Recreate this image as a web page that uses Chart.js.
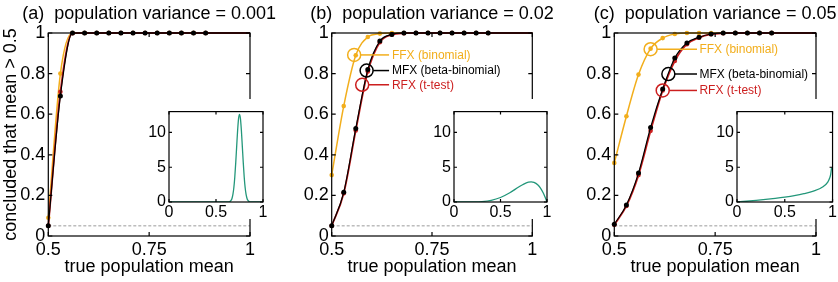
<!DOCTYPE html>
<html>
<head>
<meta charset="utf-8">
<script src="https://cdn.jsdelivr.net/npm/chart.js@4.4.1/dist/chart.umd.min.js"></script>
<style>
  html, body { margin: 0; padding: 0; background: #fff; }
  #wrap { position: relative; width: 838px; height: 282px; overflow: hidden; background: #fff; }
  canvas { position: absolute; }
</style>
</head>
<body>
<div id="wrap">
  <canvas id="mainA" width="280" height="282" style="left:0px;top:0px"></canvas>
  <canvas id="mainB" width="280" height="282" style="left:280px;top:0px"></canvas>
  <canvas id="mainC" width="278" height="282" style="left:560px;top:0px"></canvas>
  <canvas id="insetA" width="133" height="120" style="left:140px;top:99px"></canvas>
  <canvas id="insetB" width="133" height="120" style="left:425px;top:99px"></canvas>
  <canvas id="insetC" width="130" height="120" style="left:708px;top:99px"></canvas>
</div>
<script>
// x positions of the simulated population means
const meanGrid = [0.5, 0.53, 0.56, 0.59, 0.62, 0.65, 0.68, 0.71, 0.74, 0.77, 0.8, 0.83, 0.86, 0.89];
const lastMean = 1;
const lastValue = 1;
const chanceLevel = 0.05;

// (a) population variance = 0.001
const ffxA = [0.09, 0.80, 1, 1, 1, 1, 1, 1, 1, 1, 1, 1, 1, 1];
const mfxA = [0.05, 0.69, 1, 1, 1, 1, 1, 1, 1, 1, 1, 1, 1, 1];
const rfxA = [0.05, 0.71, 0.999, 1, 1, 1, 1, 1, 1, 1, 1, 1, 1, 1];

// (b) population variance = 0.02
const ffxB = [0.30, 0.64, 0.89, 0.98, 0.997, 1, 1, 1, 1, 1, 1, 1, 1, 1];
const mfxB = [0.05, 0.215, 0.53, 0.82, 0.96, 0.993, 1, 1, 1, 1, 1, 1, 1, 1];
const rfxB = [0.05, 0.21, 0.52, 0.81, 0.955, 0.992, 0.999, 1, 1, 1, 1, 1, 1, 1];

// (c) population variance = 0.05
const ffxC = [0.36, 0.59, 0.795, 0.923, 0.975, 0.995, 1, 1, 1, 1, 1, 1, 1, 1];
const mfxC = [0.058, 0.153, 0.31, 0.535, 0.724, 0.877, 0.951, 0.979, 0.995, 1, 1, 1, 1, 1];
const rfxC = [0.055, 0.148, 0.30, 0.518, 0.717, 0.862, 0.945, 0.977, 0.994, 0.999, 1, 1, 1, 1];

// insets: population density of the true mean
const densXA = [0, 0.6, 0.64, 0.66, 0.67, 0.68, 0.69, 0.70, 0.71, 0.72, 0.73, 0.74, 0.75, 0.76, 0.77, 0.78, 0.79, 0.80, 0.81, 0.82, 0.83, 0.84, 0.86, 0.9, 1];
const densA = [0, 0, 0.03, 0.22, 0.51, 1.09, 2.08, 3.6, 5.66, 8.0, 10.3, 12.0, 12.6, 12.0, 10.3, 8.0, 5.66, 3.6, 2.08, 1.09, 0.51, 0.22, 0.03, 0, 0];
const densXB = [0, 0.1, 0.2, 0.3, 0.4, 0.5, 0.6, 0.7, 0.75, 0.8, 0.83, 0.86, 0.9, 0.93, 0.96, 0.98, 1];
const densB = [0, 0, 0.01, 0.06, 0.24, 0.65, 1.33, 2.19, 2.58, 2.85, 2.9, 2.83, 2.49, 2.01, 1.29, 0.68, 0];
const densXC = [0, 0.1, 0.2, 0.3, 0.4, 0.5, 0.6, 0.7, 0.8, 0.9, 0.95, 0.97, 0.98, 0.99];
const densC = [0, 0.11, 0.23, 0.37, 0.53, 0.71, 0.92, 1.19, 1.55, 2.18, 2.87, 3.44, 3.95, 4.96];

// tick labels
const xTicksMain = [0.5, 0.75, 1];
const yTicksMain = [0, 0.2, 0.4, 0.6, 0.8, 1];
const xTicksInset = [0, 0.5, 1];
const yTicksInset = [0, 5, 10];

const titles = ['(a)  population variance = 0.001', '(b)  population variance = 0.02', '(c)  population variance = 0.05'];
const xTitle = 'true population mean';
const yTitle = 'concluded that mean > 0.5';

const FONT = "'Liberation Sans', Arial, Helvetica, sans-serif";
const COL = { ffx: '#f2ae1c', mfx: '#000000', rfx: '#cc1f1f', dens: '#23977a', chance: '#9a9a9a' };
const NAMES = { ffx: 'FFX (binomial)', mfx: 'MFX (beta-binomial)', rfx: 'RFX (t-test)' };

Chart.defaults.font.family = FONT;
Chart.defaults.color = '#000';

// circle-and-line labels, positioned in data units
const legendB = { lineEnd: 0.643, textAt: 0.65, marks: [['ffx', 0.556, 0.892], ['mfx', 0.587, 0.815], ['rfx', 0.576, 0.745]] };
const legendC = { lineEnd: 0.705, textAt: 0.711, marks: [['ffx', 0.59, 0.92], ['mfx', 0.634, 0.798], ['rfx', 0.62, 0.717]] };

// plain number labels, like 0.75 and 1
const plainLabel = v => String(+Number(v).toFixed(3));

const framePlugin = {
    id: 'frame',
    beforeDraw(chart) {
        const ctx = chart.ctx;
        ctx.save();
        ctx.fillStyle = '#fff';
        ctx.fillRect(0, 0, chart.width, chart.height);
        ctx.restore();
    },
    afterDatasetsDraw(chart, args, opts) {
        const { ctx, chartArea: a, scales: { x, y } } = chart;
        const len = opts.tick;
        ctx.save();
        ctx.strokeStyle = '#000';
        ctx.lineWidth = 1.2;
        ctx.strokeRect(a.left, a.top, a.right - a.left, a.bottom - a.top);
        ctx.beginPath();
        x.ticks.forEach(t => {
            const px = x.getPixelForValue(t.value);
            ctx.moveTo(px, a.bottom); ctx.lineTo(px, a.bottom - len);
            ctx.moveTo(px, a.top); ctx.lineTo(px, a.top + len);
        });
        y.ticks.forEach(t => {
            const py = y.getPixelForValue(t.value);
            ctx.moveTo(a.left, py); ctx.lineTo(a.left + len, py);
            ctx.moveTo(a.right, py); ctx.lineTo(a.right - len, py);
        });
        ctx.stroke();
        ctx.restore();
    }
};

const titlePlugin = {
    id: 'panelTitle',
    afterDraw(chart, args, opts) {
        if (!opts.text) return;
        const { ctx, chartArea: a } = chart;
        ctx.save();
        ctx.font = '18px ' + FONT;
        ctx.fillStyle = '#000';
        ctx.textAlign = 'center';
        ctx.textBaseline = 'middle';
        ctx.fillText(opts.text, (a.left + a.right) / 2, 14);
        ctx.restore();
    }
};

const markPlugin = {
    id: 'marks',
    afterDatasetsDraw(chart, args, opts) {
        if (!opts.legend) return;
        const { ctx, scales: { x, y } } = chart;
        const lg = opts.legend;
        const r = 6.5;
        ctx.save();
        ctx.lineWidth = 1.5;
        ctx.font = '12px ' + FONT;
        ctx.textBaseline = 'middle';
        lg.marks.forEach(([key, m, v]) => {
            const cx = x.getPixelForValue(m);
            const cy = y.getPixelForValue(v);
            ctx.strokeStyle = COL[key];
            ctx.fillStyle = COL[key];
            ctx.beginPath();
            ctx.arc(cx, cy, r, 0, Math.PI * 2);
            ctx.stroke();
            ctx.beginPath();
            ctx.moveTo(cx + r, cy);
            ctx.lineTo(x.getPixelForValue(lg.lineEnd), cy);
            ctx.stroke();
            ctx.fillText(NAMES[key], x.getPixelForValue(lg.textAt), cy + 0.5);
        });
        ctx.restore();
    }
};

function curve(values) {
    return meanGrid.map((m, i) => ({ x: m, y: values[i] })).concat([{ x: lastMean, y: lastValue }]);
}
function dots(values) {
    return meanGrid.map((m, i) => ({ x: m, y: values[i] }));
}

function makeMain(id, ffx, mfx, rfx, title, lay, withYTitle, legend) {
    const lineSet = (key, values, width, order) => ({
        data: curve(values), showLine: true, borderColor: COL[key], borderWidth: width,
        pointRadius: 0, cubicInterpolationMode: 'monotone', clip: false, order
    });
    const dotSet = (key, values, radius, order) => ({
        data: dots(values), showLine: false, backgroundColor: COL[key], borderColor: COL[key],
        borderWidth: 0, pointRadius: radius, clip: false, order
    });
    new Chart(document.getElementById(id).getContext('2d'), {
        type: 'scatter',
        data: {
            datasets: [
                dotSet('mfx', mfx, 2.5, 0),
                lineSet('mfx', mfx, 1.2, 1),
                dotSet('rfx', rfx, 2.3, 2),
                lineSet('rfx', rfx, 1.8, 3),
                dotSet('ffx', ffx, 2.3, 4),
                lineSet('ffx', ffx, 1.5, 5),
                {
                    data: [{ x: xTicksMain[0], y: chanceLevel }, { x: lastMean, y: chanceLevel }],
                    showLine: true, borderColor: COL.chance, borderWidth: 1, borderDash: [3, 2],
                    pointRadius: 0, order: 6
                }
            ]
        },
        options: {
            responsive: false,
            animation: false,
            events: [],
            layout: { padding: { left: lay.padL, right: lay.padR, top: 33, bottom: 4 } },
            plugins: {
                legend: { display: false },
                tooltip: { enabled: false },
                frame: { tick: 4 },
                panelTitle: { text: title },
                marks: { legend }
            },
            scales: {
                x: {
                    type: 'linear', min: 0.5, max: 1,
                    grid: { display: false, drawTicks: false },
                    border: { display: false },
                    afterBuildTicks: s => { s.ticks = xTicksMain.map(v => ({ value: v })); },
                    afterFit: s => { s.height = 42; },
                    ticks: { padding: 3, maxRotation: 0, autoSkip: false, font: { size: 18 }, callback: plainLabel },
                    title: { display: true, text: xTitle, font: { size: 18 }, padding: 0 }
                },
                y: {
                    type: 'linear', min: 0, max: 1,
                    grid: { display: false, drawTicks: false },
                    border: { display: false },
                    afterBuildTicks: s => { s.ticks = yTicksMain.map(v => ({ value: v })); },
                    afterFit: s => { s.width = lay.yw; },
                    ticks: { padding: 3, font: { size: 18 }, callback: plainLabel },
                    title: { display: withYTitle, text: yTitle, font: { size: 18 }, padding: 0 }
                }
            }
        },
        plugins: [framePlugin, titlePlugin, markPlugin]
    });
}

function makeInset(id, xs, ys, padR) {
    new Chart(document.getElementById(id).getContext('2d'), {
        type: 'scatter',
        data: {
            datasets: [{
                data: xs.map((v, i) => ({ x: v, y: ys[i] })),
                showLine: true, borderColor: COL.dens, borderWidth: 1.3, pointRadius: 0,
                cubicInterpolationMode: 'monotone'
            }]
        },
        options: {
            responsive: false,
            animation: false,
            events: [],
            layout: { padding: { left: 0, right: padR, top: 9, bottom: 0 } },
            plugins: { legend: { display: false }, tooltip: { enabled: false }, frame: { tick: 3 } },
            scales: {
                x: {
                    type: 'linear', min: 0, max: 1,
                    grid: { display: false, drawTicks: false },
                    border: { display: false },
                    afterBuildTicks: s => { s.ticks = xTicksInset.map(v => ({ value: v })); },
                    afterFit: s => { s.height = 17; },
                    ticks: { padding: 1, maxRotation: 0, autoSkip: false, font: { size: 16 }, callback: plainLabel }
                },
                y: {
                    type: 'linear', min: 0, max: 13,
                    grid: { display: false, drawTicks: false },
                    border: { display: false },
                    afterBuildTicks: s => { s.ticks = yTicksInset.map(v => ({ value: v })); },
                    afterFit: s => { s.width = 29; },
                    ticks: { padding: 3, font: { size: 16 }, callback: plainLabel }
                }
            }
        },
        plugins: [framePlugin]
    });
}

makeMain('mainA', ffxA, mfxA, rfxA, titles[0], { padL: 0, padR: 30, yw: 48.3 }, true, null);
makeMain('mainB', ffxB, mfxB, rfxB, titles[1], { padL: 11.7, padR: 27.7, yw: 40 }, false, legendB);
makeMain('mainC', ffxC, mfxC, rfxC, titles[2], { padL: 14.3, padR: 22, yw: 40 }, false, legendC);

makeInset('insetA', densXA, densA, 10);
makeInset('insetB', densXB, densB, 11);
makeInset('insetC', densXC, densC, 1);
</script>
</body>
</html>
